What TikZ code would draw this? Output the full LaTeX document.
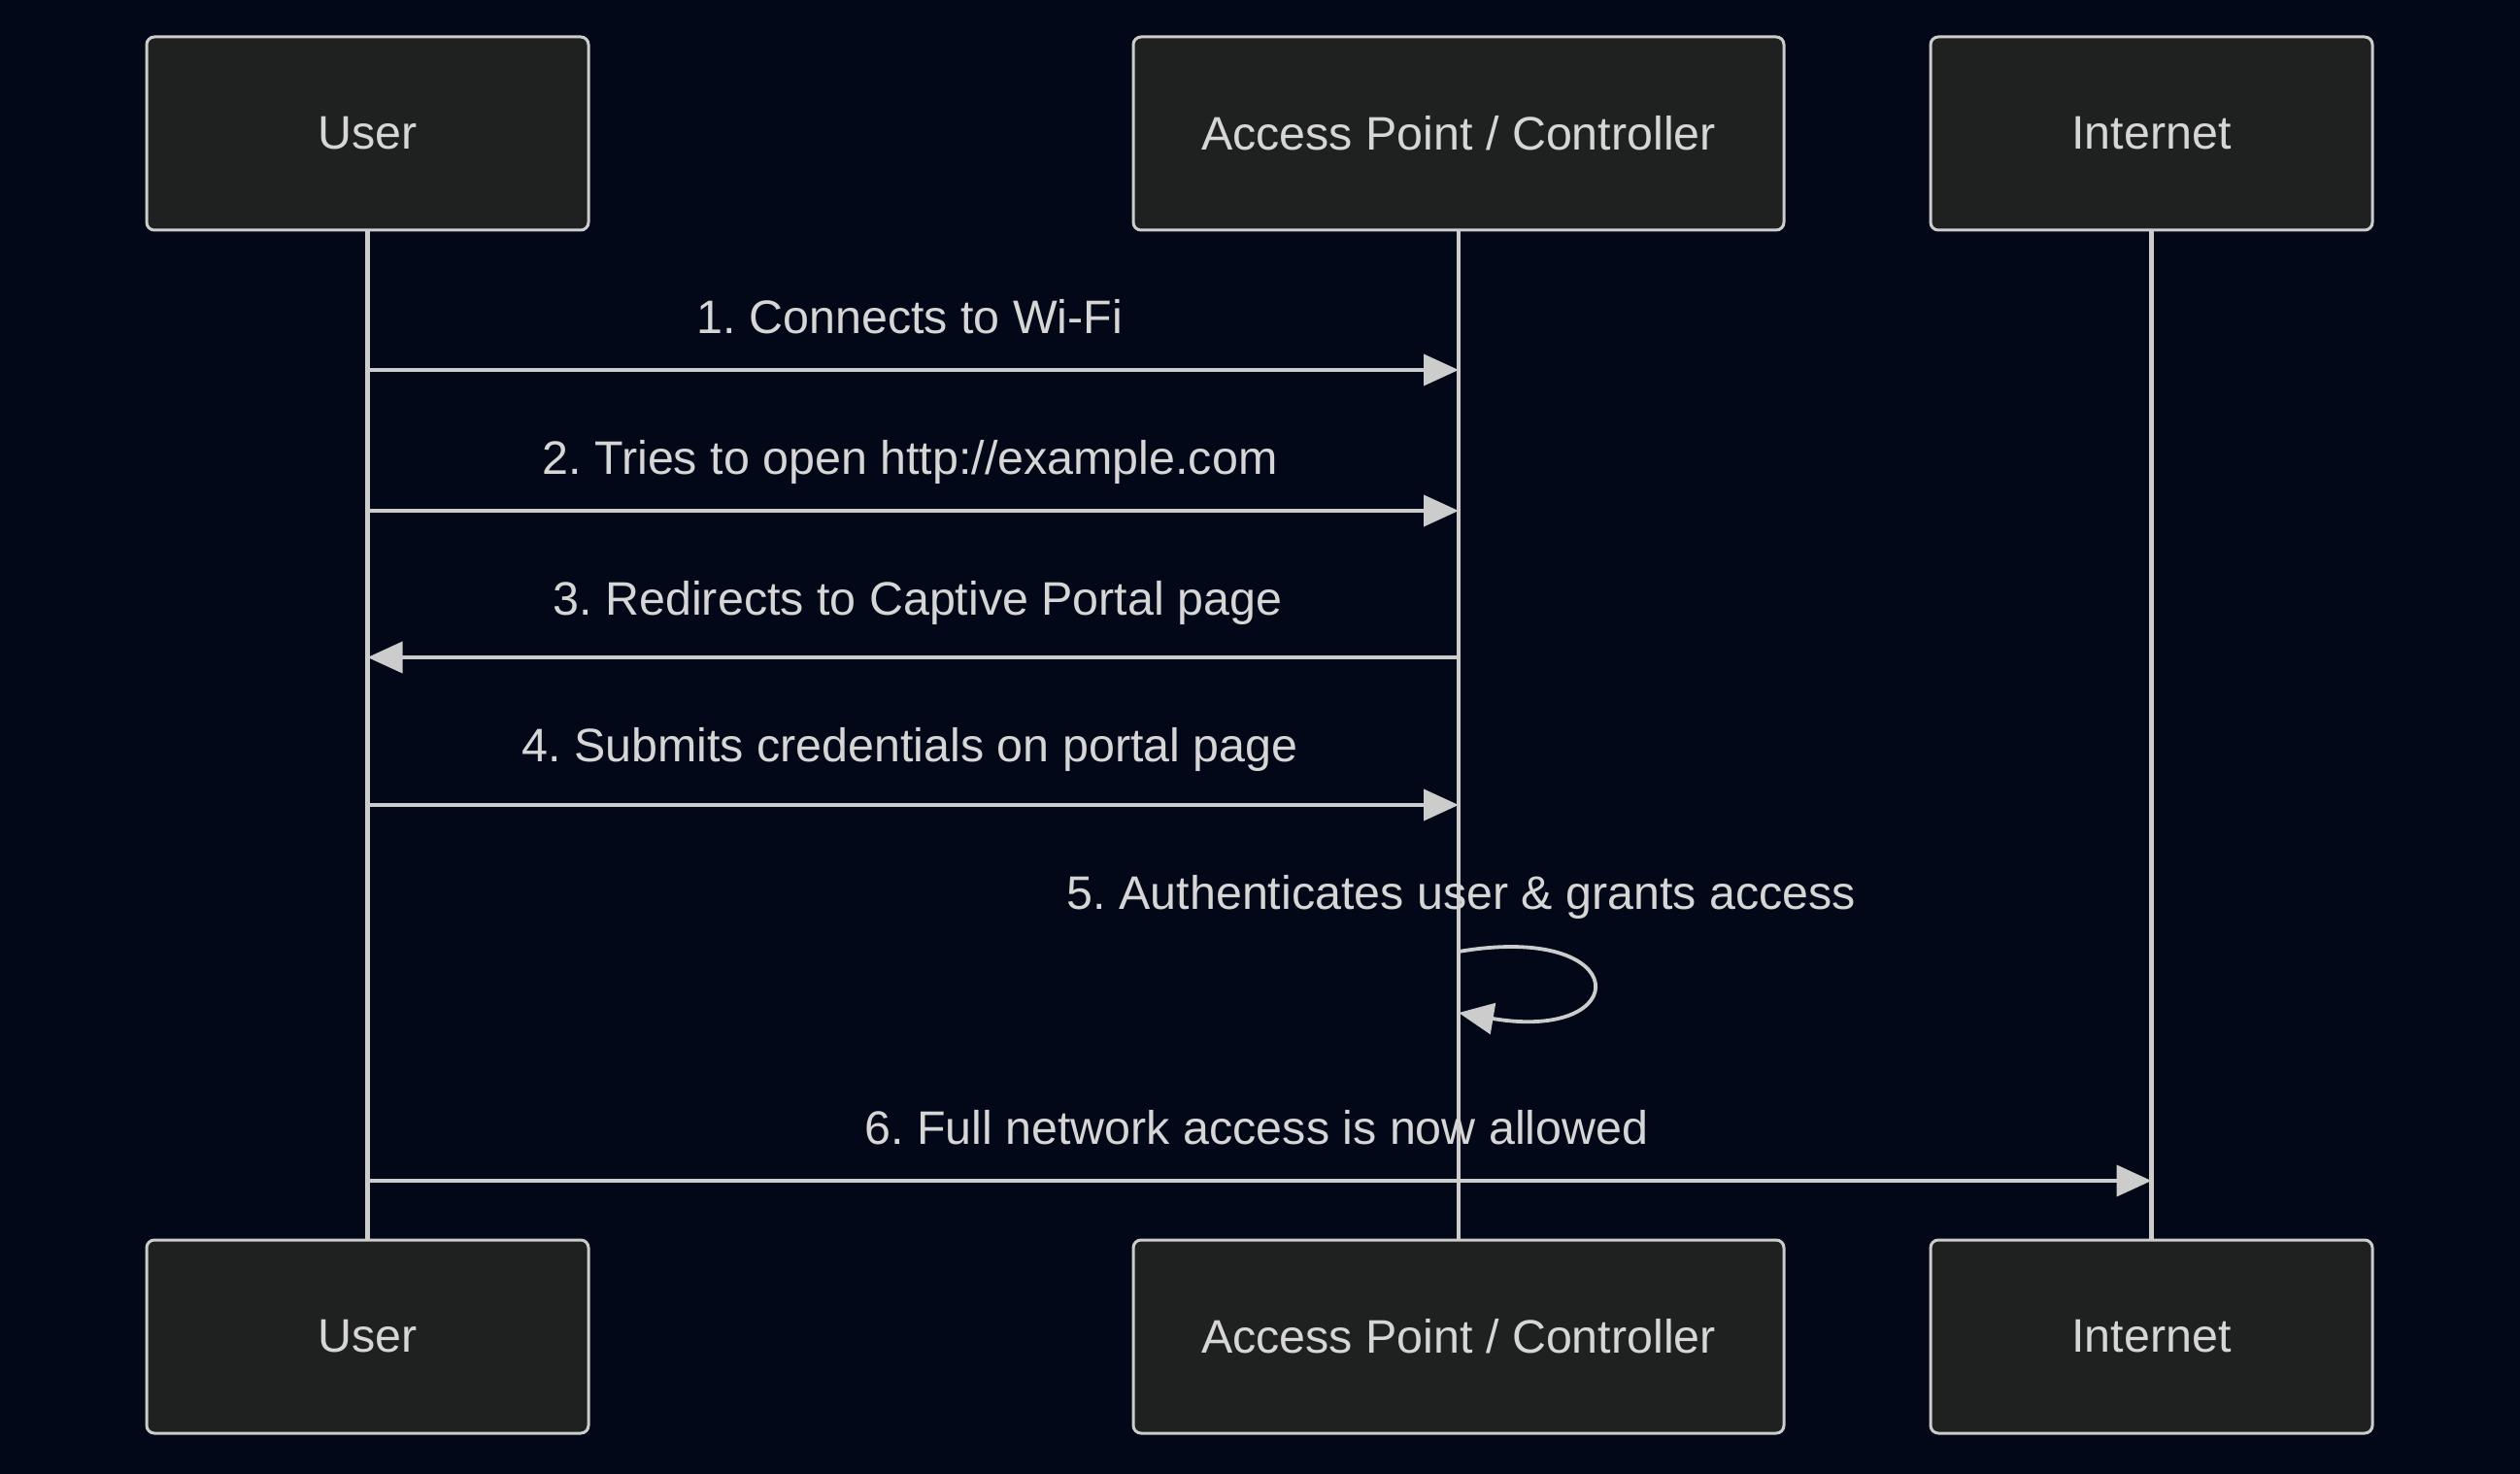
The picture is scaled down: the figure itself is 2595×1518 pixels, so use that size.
\documentclass[tikz,border=0pt]{standalone}
\usepackage{fontspec}
\setmainfont{Liberation Sans}
\usetikzlibrary{arrows.meta}
\definecolor{bgc}{RGB}{2,8,23}
\definecolor{boxfill}{RGB}{31,32,32}
\definecolor{linec}{RGB}{204,204,204}
\definecolor{txtc}{RGB}{214,214,214}
\begin{document}
\frenchspacing
\begin{tikzpicture}[x=0.5pt,y=-0.5pt,
  actor/.style={draw=linec, line width=1.5pt, fill=boxfill, rounded corners=4pt,
    minimum height=99.5pt, inner sep=0pt, text=txtc, font=\fontsize{24.2}{29}\selectfont},
  life/.style={draw=linec, line width=2.2pt},
  msg/.style={draw=linec, line width=1.9pt, -{Triangle[length=18pt,width=16pt]}},
  lbl/.style={text=txtc, font=\fontsize{24.2}{29}\selectfont, anchor=base, inner sep=0pt}]
\fill[bgc] (0,0) rectangle (2595,1518);
\useasboundingbox (0,0) rectangle (2595,1518);
% actors
\node[actor, minimum width=227.5pt] (ut) at (378.5,137.5) {User};
\node[actor, minimum width=335pt] (at) at (1502,137.5) {Access Point / Controller};
\node[actor, minimum width=227.5pt] (it) at (2215.5,137.5) {Internet};
\node[actor, minimum width=227.5pt] (ub) at (378.5,1376.5) {User};
\node[actor, minimum width=335pt] (ab) at (1502,1376.5) {Access Point / Controller};
\node[actor, minimum width=227.5pt] (ib) at (2215.5,1376.5) {Internet};
% lifelines
\draw[life] (ut.south) -- (ub.north);
\draw[life] (at.south) -- (ab.north);
\draw[life] (it.south) -- (ib.north);
% message rows
\coordinate (y1) at (0,381);
\coordinate (y2) at (0,526);
\coordinate (y3) at (0,677);
\coordinate (y4) at (0,829);
\coordinate (y5a) at (0,980);
\coordinate (y5b) at (0,1043);
\coordinate (y6) at (0,1216);
% messages
\draw[msg] (ut |- y1) -- (at |- y1);
\node[lbl] (l1) at (937,344) {1. Connects to Wi-Fi};
\draw[msg] (ut |- y2) -- (at |- y2);
\node[lbl] (l2) at (937,488) {2. Tries to open http://example.com};
\draw[msg] (at |- y3) -- (ut |- y3);
\node[lbl] (l3) at (945,633) {3. Redirects to Captive Portal page};
\draw[msg] (ut |- y4) -- (at |- y4);
\node[lbl] (l4) at (937,784) {4. Submits credentials on portal page};
\node[lbl] (l5) at (1505,936) {5. Authenticates user \& grants access};
\draw[msg] (at |- y5a) .. controls (1684,949) and (1684,1074) .. (at |- y5b);
\draw[msg] (ut |- y6) -- (it |- y6);
\node[lbl] (l6) at (1294,1178) {6. Full network access is now allowed};
\end{tikzpicture}
\end{document}
